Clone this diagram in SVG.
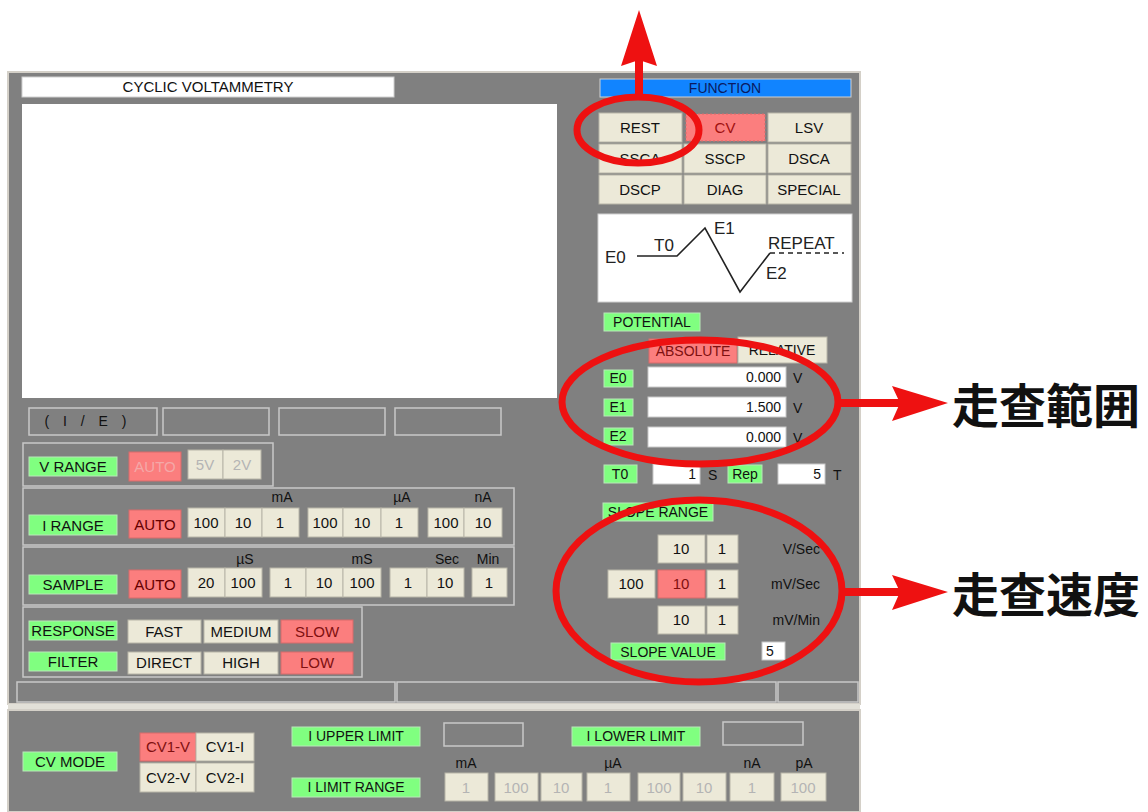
<svg xmlns="http://www.w3.org/2000/svg" width="1148" height="812" viewBox="0 0 1148 812">
<style>
text{font-family:"Liberation Sans","DejaVu Sans",sans-serif;font-size:15px;fill:#111}
.c{text-anchor:middle}
.e{text-anchor:end}
.panel{fill:#808080}
.btn{fill:#ece9d8;stroke:#b8b5a8;stroke-width:1}
.red{fill:#fb7e7e;stroke:#d86a6a;stroke-width:1}
.grn{fill:#80ff80;stroke:#b8e8b8;stroke-width:1}
.fld{fill:#ffffff;stroke:#c8c8c8;stroke-width:1}
.frame{fill:none;stroke:#c8c8c8;stroke-width:1.5}
.sunk{fill:#808080;stroke:#c8c8c8;stroke-width:1.5}
.dis{fill:#b4b4b4}
.u{font-size:14px;fill:#111}
.ring{fill:none;stroke:#ee1111;stroke-width:7}
.arr{fill:#ee1111}
.jp{font-family:"Noto Sans CJK JP","Noto Sans CJK SC",sans-serif;font-size:47px;font-weight:bold;fill:#111}
.wave{fill:none;stroke:#222;stroke-width:1.6}
.wt{font-size:17px;fill:#222}
</style>
<rect width="1148" height="812" fill="#ffffff"/>

<g id="main-panel">
<rect class="panel" x="8" y="72" width="852" height="632" stroke="#d4d0c8" stroke-width="2"/>
<rect x="22" y="77" width="372" height="20" fill="#fff" stroke="#d0d0d0"/>
<text class="c" x="208" y="92">CYCLIC VOLTAMMETRY</text>
<rect x="22" y="104" width="535" height="294" fill="#fff"/>
</g>

<g id="function">
<rect x="600" y="79" width="251" height="18" fill="#1184ff" stroke="#d0d0d0"/>
<text class="c" x="725" y="93" style="font-size:14px;fill:#0a1a60">FUNCTION</text>
<rect class="btn" x="599" y="113" width="83" height="29"/><text class="c" x="640" y="133">REST</text>
<rect class="red" x="686" y="114" width="79" height="27" stroke-dasharray="2,2" stroke="#b04040"/><text class="c" x="725" y="133" style="fill:#a01010">CV</text>
<rect class="btn" x="768" y="113" width="83" height="29"/><text class="c" x="809" y="133">LSV</text>
<rect class="btn" x="599" y="144" width="83" height="29"/><text class="c" x="640" y="164">SSCA</text>
<rect class="btn" x="684" y="144" width="82" height="29"/><text class="c" x="725" y="164">SSCP</text>
<rect class="btn" x="768" y="144" width="83" height="29"/><text class="c" x="809" y="164">DSCA</text>
<rect class="btn" x="599" y="175" width="83" height="29"/><text class="c" x="640" y="195">DSCP</text>
<rect class="btn" x="684" y="175" width="82" height="29"/><text class="c" x="725" y="195">DIAG</text>
<rect class="btn" x="768" y="175" width="83" height="29"/><text class="c" x="809" y="195">SPECIAL</text>
</g>

<g id="waveform">
<rect x="598" y="214" width="254" height="88" fill="#fff" stroke="#d0d0d0"/>
<polyline class="wave" points="637,256 677,256 705,228 740,292 770,253"/>
<line class="wave" x1="770" y1="253" x2="844" y2="253" stroke-dasharray="5,4"/>
<text class="wt" x="605" y="263">E0</text>
<text class="wt" x="654" y="251">T0</text>
<text class="wt" x="714" y="234">E1</text>
<text class="wt" x="768" y="249">REPEAT</text>
<text class="wt" x="766" y="279">E2</text>
</g>

<g id="potential">
<rect class="grn" x="604" y="313" width="96" height="18"/><text class="c u" x="652" y="327">POTENTIAL</text>
<rect class="red" x="649" y="339" width="88" height="24"/><text class="c u" x="693" y="356" style="fill:#801010">ABSOLUTE</text>
<rect class="btn" x="738" y="337" width="89" height="26"/><text class="c u" x="782" y="355">RELATIVE</text>
<rect class="grn" x="604" y="370" width="29" height="17"/><text class="c u" x="618" y="383">E0</text>
<rect class="fld" x="648" y="367" width="138" height="20"/><text class="e u" x="781" y="382">0.000</text><text class="u" x="793" y="383">V</text>
<rect class="grn" x="604" y="399" width="29" height="17"/><text class="c u" x="618" y="412">E1</text>
<rect class="fld" x="648" y="397" width="138" height="20"/><text class="e u" x="781" y="412">1.500</text><text class="u" x="793" y="413">V</text>
<rect class="grn" x="604" y="428" width="29" height="17"/><text class="c u" x="618" y="441">E2</text>
<rect class="fld" x="648" y="427" width="138" height="20"/><text class="e u" x="781" y="442">0.000</text><text class="u" x="793" y="443">V</text>
<rect class="grn" x="604" y="465" width="33" height="18"/><text class="c u" x="620" y="479">T0</text>
<rect class="fld" x="653" y="464" width="47" height="20"/><text class="e u" x="696" y="479">1</text><text class="u" x="708" y="480">S</text>
<rect class="grn" x="728" y="465" width="34" height="18"/><text class="c u" x="745" y="479">Rep</text>
<rect class="fld" x="778" y="464" width="47" height="20"/><text class="e u" x="821" y="479">5</text><text class="u" x="833" y="480">T</text>
</g>

<g id="slope">
<rect class="grn" x="603" y="503" width="110" height="18"/><text class="c u" x="658" y="517">SLOPE RANGE</text>
<rect class="btn" x="658" y="535" width="47" height="28"/><text class="c" x="681" y="554">10</text>
<rect class="btn" x="707" y="535" width="31" height="28"/><text class="c" x="722" y="554">1</text>
<text class="e u" x="820" y="554">V/Sec</text>
<rect class="btn" x="608" y="570" width="47" height="28"/><text class="c" x="631" y="589">100</text>
<rect class="red" x="658" y="570" width="47" height="28"/><text class="c" x="681" y="589" style="fill:#801010">10</text>
<rect class="btn" x="707" y="570" width="31" height="28"/><text class="c" x="722" y="589">1</text>
<text class="e u" x="820" y="589">mV/Sec</text>
<rect class="btn" x="658" y="606" width="47" height="28"/><text class="c" x="681" y="625">10</text>
<rect class="btn" x="707" y="606" width="31" height="28"/><text class="c" x="722" y="625">1</text>
<text class="e u" x="820" y="625">mV/Min</text>
<rect class="grn" x="611" y="643" width="114" height="17"/><text class="c u" x="668" y="657">SLOPE VALUE</text>
<rect class="fld" x="762" y="642" width="23" height="18"/><text class="u" x="766" y="656">5</text>
</g>

<g id="ie-boxes">
<rect class="sunk" x="29" y="408" width="128" height="27"/><text class="c u" x="88" y="426" style="letter-spacing:5px">( I / E )</text>
<rect class="sunk" x="163" y="408" width="106" height="27"/>
<rect class="sunk" x="279" y="408" width="106" height="27"/>
<rect class="sunk" x="395" y="408" width="106" height="27"/>
</g>

<g id="v-range">
<rect class="frame" x="23" y="443" width="250" height="43"/>
<rect class="grn" x="29" y="457" width="88" height="19"/><text class="c" x="73" y="472">V RANGE</text>
<rect class="red" x="129" y="452" width="52" height="29"/><text class="c" x="155" y="472" style="fill:#f4a8a8">AUTO</text>
<rect class="btn" x="188" y="450" width="35" height="29"/><text class="c dis" x="205" y="470">5V</text>
<rect class="btn" x="223" y="450" width="38" height="29"/><text class="c dis" x="242" y="470">2V</text>
</g>

<g id="i-range">
<rect class="frame" x="23" y="488" width="491" height="57"/>
<rect class="grn" x="29" y="515" width="88" height="20"/><text class="c" x="73" y="531">I RANGE</text>
<rect class="red" x="129" y="510" width="52" height="28"/><text class="c" x="155" y="530" style="fill:#600">AUTO</text>
<rect class="btn" x="188" y="508" width="37" height="29"/><text class="c" x="206" y="528">100</text>
<rect class="btn" x="225" y="508" width="37" height="29"/><text class="c" x="243" y="528">10</text>
<rect class="btn" x="262" y="508" width="37" height="29"/><text class="c" x="280" y="528">1</text>
<rect class="btn" x="308" y="508" width="35" height="29"/><text class="c" x="325" y="528">100</text>
<rect class="btn" x="343" y="508" width="38" height="29"/><text class="c" x="362" y="528">10</text>
<rect class="btn" x="381" y="508" width="37" height="29"/><text class="c" x="399" y="528">1</text>
<rect class="btn" x="428" y="508" width="36" height="29"/><text class="c" x="446" y="528">100</text>
<rect class="btn" x="464" y="508" width="38" height="29"/><text class="c" x="483" y="528">10</text>
<text class="c u" x="282" y="502">mA</text>
<text class="c u" x="402" y="502">µA</text>
<text class="c u" x="483" y="502">nA</text>
</g>

<g id="sample">
<rect class="frame" x="23" y="547" width="491" height="58"/>
<rect class="grn" x="29" y="575" width="88" height="19"/><text class="c" x="73" y="590">SAMPLE</text>
<rect class="red" x="129" y="570" width="52" height="28"/><text class="c" x="155" y="590" style="fill:#600">AUTO</text>
<rect class="btn" x="188" y="568" width="37" height="29"/><text class="c" x="206" y="588">20</text>
<rect class="btn" x="225" y="568" width="37" height="29"/><text class="c" x="243" y="588">100</text>
<rect class="btn" x="270" y="568" width="36" height="29"/><text class="c" x="288" y="588">1</text>
<rect class="btn" x="306" y="568" width="37" height="29"/><text class="c" x="324" y="588">10</text>
<rect class="btn" x="343" y="568" width="38" height="29"/><text class="c" x="362" y="588">100</text>
<rect class="btn" x="390" y="568" width="37" height="29"/><text class="c" x="408" y="588">1</text>
<rect class="btn" x="427" y="568" width="37" height="29"/><text class="c" x="445" y="588">10</text>
<rect class="btn" x="472" y="568" width="35" height="29"/><text class="c" x="489" y="588">1</text>
<text class="c u" x="245" y="564">µS</text>
<text class="c u" x="362" y="564">mS</text>
<text class="c u" x="447" y="564">Sec</text>
<text class="c u" x="488" y="564">Min</text>
</g>

<g id="response-filter">
<rect class="frame" x="23" y="607" width="339" height="70"/>
<rect class="grn" x="29" y="621" width="88" height="19"/><text class="c" x="73" y="636">RESPONSE</text>
<rect class="btn" x="128" y="620" width="73" height="23"/><text class="c" x="164" y="637">FAST</text>
<rect class="btn" x="204" y="620" width="74" height="23"/><text class="c" x="241" y="637">MEDIUM</text>
<rect class="red" x="281" y="620" width="72" height="23"/><text class="c" x="317" y="637" style="fill:#801010">SLOW</text>
<rect class="grn" x="29" y="652" width="88" height="19"/><text class="c" x="73" y="667">FILTER</text>
<rect class="btn" x="128" y="652" width="73" height="22"/><text class="c" x="164" y="668">DIRECT</text>
<rect class="btn" x="204" y="652" width="74" height="22"/><text class="c" x="241" y="668">HIGH</text>
<rect class="red" x="281" y="652" width="72" height="22"/><text class="c" x="317" y="668" style="fill:#801010">LOW</text>
</g>

<g id="status-bar">
<rect class="sunk" x="17" y="682" width="378" height="20"/>
<rect class="sunk" x="397" y="682" width="379" height="20"/>
<rect class="sunk" x="778" y="682" width="80" height="20"/>
<rect x="8" y="704" width="852" height="6" fill="#e2e0d8"/>
</g>

<g id="cv-mode-panel">
<rect class="panel" x="8" y="710" width="852" height="102" stroke="#d4d0c8" stroke-width="2"/>
<rect class="grn" x="23" y="752" width="94" height="19"/><text class="c" x="70" y="767">CV MODE</text>
<rect class="red" x="140" y="733" width="56" height="28"/><text class="c" x="168" y="752" style="fill:#801010">CV1-V</text>
<rect class="btn" x="196" y="733" width="58" height="28"/><text class="c" x="225" y="752">CV1-I</text>
<rect class="btn" x="140" y="763" width="56" height="29"/><text class="c" x="168" y="783">CV2-V</text>
<rect class="btn" x="196" y="763" width="58" height="29"/><text class="c" x="225" y="783">CV2-I</text>
<rect class="grn" x="292" y="727" width="128" height="19"/><text class="c u" x="356" y="741">I UPPER LIMIT</text>
<rect class="sunk" x="444" y="723" width="79" height="23"/>
<rect class="grn" x="572" y="727" width="128" height="19"/><text class="c u" x="636" y="741">I LOWER LIMIT</text>
<rect class="sunk" x="723" y="722" width="80" height="23"/>
<rect class="grn" x="292" y="778" width="128" height="19"/><text class="c u" x="356" y="792">I LIMIT RANGE</text>
<text class="c u" x="466" y="768">mA</text>
<text class="c u" x="613" y="768">µA</text>
<text class="c u" x="752" y="768">nA</text>
<text class="c u" x="804" y="768">pA</text>
<rect class="btn" x="445" y="773" width="43" height="28"/><text class="c dis" x="466" y="793">1</text>
<rect class="btn" x="495" y="773" width="43" height="28"/><text class="c dis" x="516" y="793">100</text>
<rect class="btn" x="541" y="773" width="41" height="28"/><text class="c dis" x="561" y="793">10</text>
<rect class="btn" x="587" y="773" width="43" height="28"/><text class="c dis" x="608" y="793">1</text>
<rect class="btn" x="638" y="773" width="42" height="28"/><text class="c dis" x="659" y="793">100</text>
<rect class="btn" x="683" y="773" width="43" height="28"/><text class="c dis" x="704" y="793">10</text>
<rect class="btn" x="730" y="773" width="44" height="28"/><text class="c dis" x="752" y="793">1</text>
<rect class="btn" x="781" y="773" width="45" height="28"/><text class="c dis" x="803" y="793">100</text>
</g>

<g id="connectors">
<ellipse class="ring" cx="638" cy="130" rx="61" ry="33"/>
<ellipse class="ring" cx="700" cy="402" rx="138" ry="62"/>
<ellipse class="ring" cx="699" cy="591" rx="143" ry="91"/>
<rect class="arr" x="635" y="60" width="8" height="38"/>
<polygon class="arr" points="639,10 657,66 639,60 621,66"/>
<rect class="arr" x="836" y="399" width="64" height="8"/>
<polygon class="arr" points="948,403 892,386 900,403 892,421"/>
<rect class="arr" x="840" y="588" width="60" height="8"/>
<polygon class="arr" points="948,592 892,575 900,592 892,610"/>
</g>

<g id="labels">
<text class="jp" x="952" y="423">走查範囲</text>
<text class="jp" x="952" y="612">走查速度</text>
</g>
</svg>
